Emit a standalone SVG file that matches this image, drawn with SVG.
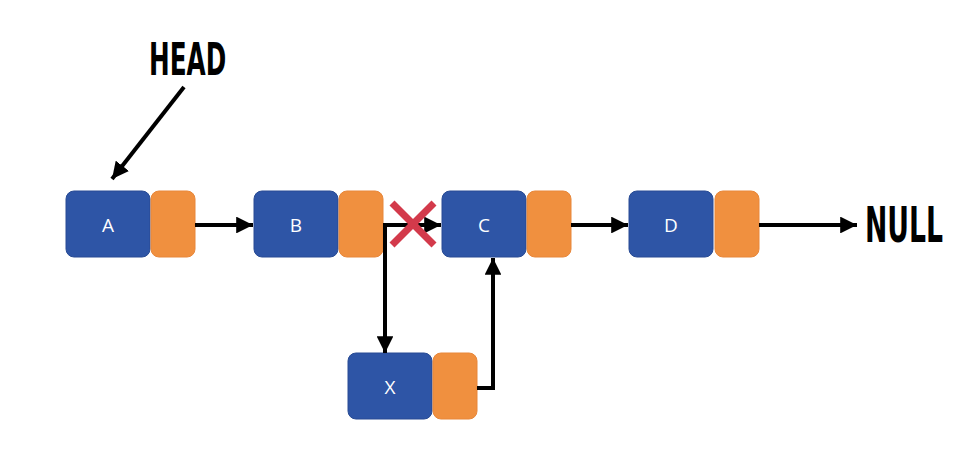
<svg xmlns="http://www.w3.org/2000/svg" width="980" height="464" viewBox="0 0 980 464">
<style>
.data{fill:#2e55a6;stroke:#284b94;stroke-width:1}
.ptr{fill:#f0903f;stroke:#e8873a;stroke-width:1}
.lbl{fill:#fff;font-family:"Open Sans","Liberation Sans",sans-serif;font-size:19px;text-anchor:middle;dominant-baseline:central}
.big{fill:#000;font-family:"DejaVu Sans Condensed","Liberation Sans",sans-serif;font-weight:bold}
.line{fill:none;stroke:#000;stroke-width:4}
</style>
<defs>
<marker id="ah" viewBox="0 0 10 10" refX="10" refY="5" markerWidth="4.2" markerHeight="4.2" orient="auto" markerUnits="strokeWidth">
<path d="M0,0 L10,5 L0,10 Z" fill="#000"/>
</marker>
</defs>
<rect width="980" height="464" fill="#fff"/>
<text class="big" transform="translate(149,75) scale(0.66,1)" font-size="44" textLength="117" lengthAdjust="spacingAndGlyphs">HEAD</text>
<text class="big" transform="translate(865,242) scale(0.6,1)" font-size="49" textLength="130" lengthAdjust="spacingAndGlyphs">NULL</text>
<g id="A">
<rect class="data" x="66" y="191" width="84" height="66" rx="8"/>
<rect class="ptr" x="151" y="191" width="44" height="66" rx="8"/>
<text class="lbl" x="108" y="225">A</text>
</g>
<g id="B">
<rect class="data" x="254" y="191" width="84" height="66" rx="8"/>
<rect class="ptr" x="339" y="191" width="44" height="66" rx="8"/>
<text class="lbl" x="296" y="225">B</text>
</g>
<g id="C">
<rect class="data" x="442" y="191" width="84" height="66" rx="8"/>
<rect class="ptr" x="527" y="191" width="44" height="66" rx="8"/>
<text class="lbl" x="484" y="225">C</text>
</g>
<g id="D">
<rect class="data" x="629" y="191" width="84" height="66" rx="8"/>
<rect class="ptr" x="715" y="191" width="44" height="66" rx="8"/>
<text class="lbl" x="671" y="225">D</text>
</g>
<g id="X">
<rect class="data" x="348" y="353" width="84" height="66" rx="8"/>
<rect class="ptr" x="433" y="353" width="44" height="66" rx="8"/>
<text class="lbl" x="390" y="387">X</text>
</g>
<g id="connectors">
<line class="line" x1="184" y1="87" x2="112" y2="179" marker-end="url(#ah)"/>
<line class="line" x1="195" y1="225" x2="253" y2="225" marker-end="url(#ah)"/>
<line class="line" x1="383" y1="225" x2="441" y2="225" marker-end="url(#ah)"/>
<line class="line" x1="571" y1="225" x2="628" y2="225" marker-end="url(#ah)"/>
<line class="line" x1="759" y1="225" x2="857" y2="225" marker-end="url(#ah)"/>
<polyline class="line" points="385,225 385,353" marker-end="url(#ah)"/>
<polyline class="line" points="477,388 493,388 493,258" marker-end="url(#ah)"/>
</g>
<g id="cross" stroke="#d33a4b" stroke-width="7" stroke-linecap="butt">
<line x1="392" y1="203" x2="434" y2="245"/>
<line x1="434" y1="203" x2="392" y2="245"/>
</g>
</svg>
